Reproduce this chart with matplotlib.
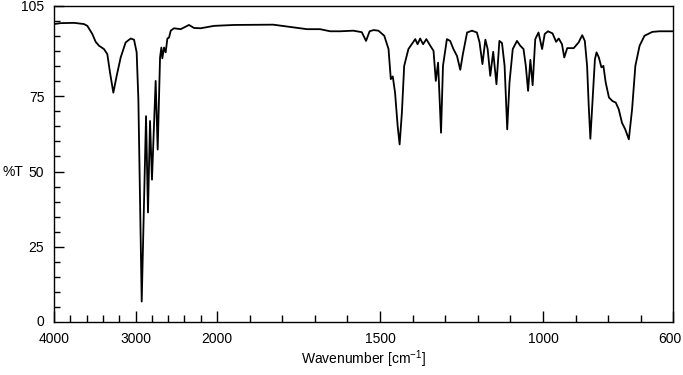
import numpy as np
import matplotlib
matplotlib.use("Agg")
import matplotlib.pyplot as plt
from matplotlib.ticker import FixedLocator, NullFormatter

plt.rcParams['font.family'] = ['Liberation Sans', 'DejaVu Sans']
plt.rcParams['mathtext.fontset'] = 'custom'
plt.rcParams['mathtext.rm'] = 'Liberation Sans'
plt.rcParams['mathtext.it'] = 'Liberation Sans'

wavenumber = [4000, 3920, 3755, 3632, 3591, 3530, 3489, 3448, 3387, 3346, 3313, 3272,
              3231, 3182, 3121, 3059, 3018, 2986, 2965, 2945, 2924, 2904, 2871, 2847,
              2822, 2798, 2753, 2728, 2699, 2683, 2671, 2650, 2630, 2609, 2589, 2568,
              2528, 2446, 2344, 2282, 2200, 2037, 1948, 1828, 1724, 1684, 1653, 1622,
              1582, 1556, 1543, 1532, 1520, 1505, 1487, 1474, 1467, 1461, 1454, 1446,
              1440, 1433, 1426, 1413, 1392, 1385, 1377, 1368, 1358, 1346, 1336, 1329,
              1322, 1313, 1307, 1295, 1285, 1275, 1264, 1254, 1246, 1233, 1218, 1203,
              1195, 1186, 1177, 1170, 1162, 1153, 1143, 1134, 1126, 1118, 1110, 1103,
              1093, 1080, 1070, 1060, 1053, 1046, 1039, 1032, 1024, 1014, 1003, 995,
              985, 971, 960, 952, 942, 935, 926, 906, 891, 880, 872, 865, 860, 855,
              848, 841, 836, 829, 821, 815, 808, 798, 787, 777, 768, 758, 748, 737,
              727, 717, 704, 689, 665, 643, 600]
transmittance = [99.0, 99.3, 99.4, 99.0, 98.4, 95.7, 93.1, 91.8, 90.7, 89.0, 82.9, 76.2,
                 81.8, 87.9, 92.9, 94.2, 93.8, 89.6, 74.0, 40.7, 6.8, 29.6, 68.4, 36.4,
                 66.8, 47.3, 80.1, 57.3, 87.9, 91.2, 87.6, 91.2, 89.6, 94.2, 94.5, 96.8,
                 97.6, 97.3, 98.7, 97.7, 97.6, 98.4, 98.7, 98.8, 97.3, 97.3, 96.6, 96.6,
                 96.8, 96.3, 93.4, 96.6, 97.0, 96.8, 95.1, 90.7, 80.7, 81.6, 76.2, 65.1,
                 59.0, 69.6, 85.1, 90.7, 94.0, 92.3, 94.2, 92.3, 94.0, 91.8, 90.1, 80.1,
                 86.2, 62.9, 85.1, 94.0, 93.4, 90.7, 88.4, 83.8, 89.0, 96.2, 96.8, 96.2,
                 93.0, 85.7, 93.8, 90.7, 81.8, 89.8, 79.0, 93.4, 92.7, 85.1, 64.0, 79.6,
                 90.7, 93.4, 91.8, 90.7, 85.1, 76.8, 87.1, 78.7, 94.0, 96.2, 90.7, 95.7,
                 96.6, 95.9, 93.1, 94.2, 92.3, 87.9, 91.0, 91.0, 92.9, 95.3, 93.4, 85.1,
                 71.8, 60.9, 74.0, 87.3, 89.6, 87.9, 84.6, 85.1, 79.6, 74.6, 73.4, 72.9,
                 70.7, 66.2, 64.0, 60.7, 70.7, 85.1, 91.8, 95.1, 96.4, 96.6, 96.6]

x_tick_labels = [4000, 3000, 2000, 1500, 1000, 600]
x_minor_marks = [3800, 3600, 3400, 3200, 2800, 2600, 2400, 2200,
                 1900, 1800, 1700, 1600, 1400, 1300, 1200, 1100, 900, 800, 700]
y_tick_labels = [25, 50, 75, 105]
y_minor_marks = [v for v in range(5, 105, 5) if v not in (25, 50, 75)]


def fwd(w):
    w = np.asarray(w, dtype=float)
    return np.where(w > 2000, 2000 + (w - 2000) / 4.0, w)


def inv(u):
    u = np.asarray(u, dtype=float)
    return np.where(u > 2000, 2000 + (u - 2000) * 4.0, u)


fig = plt.figure(figsize=(6.83, 3.75), dpi=100)
ax = fig.add_axes([54 / 683, 1 - 322 / 375, (673.5 - 54) / 683, (322 - 6) / 375])
ax.set_xscale('function', functions=(fwd, inv))
ax.plot(wavenumber, transmittance, color='black', lw=1.3)
ax.set_xlim(4000, 600)
ax.set_ylim(0, 105)

for s in ax.spines.values():
    s.set_linewidth(1.0)
    s.set_color('black')

# x ticks (last label drawn separately so it stays inside the figure)
ax.xaxis.set_major_locator(FixedLocator(x_tick_labels))
ax.set_xticklabels([str(v) for v in x_tick_labels[:-1]] + [''])
ax.xaxis.set_minor_locator(FixedLocator(x_minor_marks))
ax.xaxis.set_minor_formatter(NullFormatter())
ax.tick_params(axis='x', which='major', direction='in', length=8, width=1.0,
               pad=7, labelsize=10, top=False)
ax.tick_params(axis='x', which='minor', direction='in', length=5, width=1.0, top=False)
ax.annotate(str(x_tick_labels[-1]), xy=(x_tick_labels[-1], 0),
            xycoords=('data', 'axes fraction'), xytext=(-2.5, -7),
            textcoords='offset points', ha='center', va='top', fontsize=10)

# y ticks
ax.yaxis.set_major_locator(FixedLocator(y_tick_labels))
ax.set_yticklabels([str(v) for v in y_tick_labels])
ax.yaxis.set_minor_locator(FixedLocator(y_minor_marks))
ax.yaxis.set_minor_formatter(NullFormatter())
ax.tick_params(axis='y', which='major', direction='in', length=7, width=1.0,
               pad=7, labelsize=10, right=False)
ax.tick_params(axis='y', which='minor', direction='in', length=4.5, width=1.0, right=False)

ax.annotate('0', xy=(0, 0), xycoords=('axes fraction', 'data'), xytext=(-7, 0),
            textcoords='offset points', ha='right', va='center', fontsize=10)
ax.text(-0.049, 50, '%T', transform=ax.get_yaxis_transform(), ha='right',
        va='center', fontsize=10)
ax.set_xlabel('Wavenumber [cm$^{-1}$]', fontsize=10, labelpad=2)

fig.savefig('out.png', dpi=100)
